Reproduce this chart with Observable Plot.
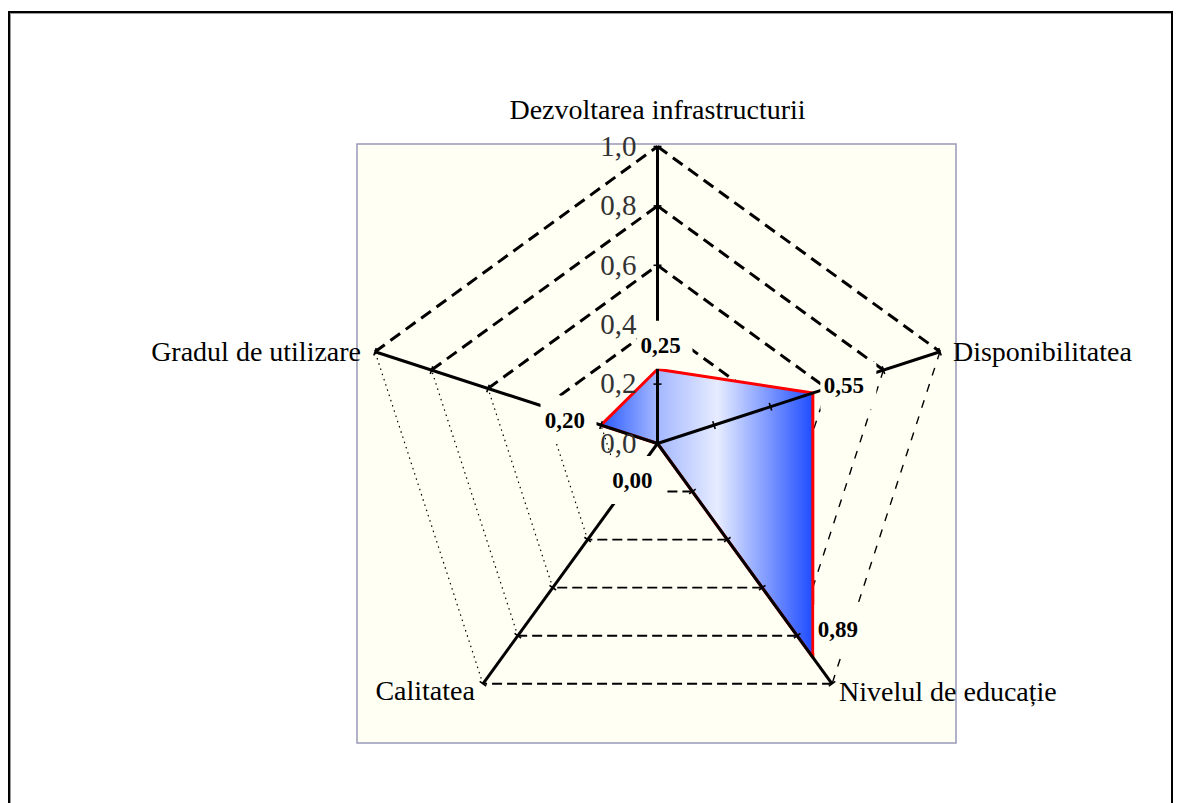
<!DOCTYPE html>
<html>
<head>
<meta charset="utf-8">
<script src="https://cdn.jsdelivr.net/npm/d3@7"></script>
<script src="https://cdn.jsdelivr.net/npm/@observablehq/plot@0.6"></script>
<style>
html, body { margin: 0; padding: 0; background: #fff; overflow: hidden; }
#wrap { position: relative; width: 1181px; height: 803px; }
#frame { position: absolute; left: 8px; top: 11px; width: 1161px; height: 900px;
  border: 2px solid #000; box-shadow: inset 1px 1px 0 #9a9a9a; pointer-events: none; }
</style>
</head>
<body>
<div id="wrap"><div id="chart"></div><div id="frame"></div></div>
<script>
// ---- data ----
const categories = ["Dezvoltarea infrastructurii", "Disponibilitatea", "Nivelul de educație", "Calitatea", "Gradul de utilizare"];
const values = [0.25, 0.55, 0.89, 0.00, 0.20];
const valueLabels = ["0,25", "0,55", "0,89", "0,00", "0,20"];
const tickValues = [0, 0.2, 0.4, 0.6, 0.8, 1.0];
const tickLabels = ["0,0", "0,2", "0,4", "0,6", "0,8", "1,0"];

// ---- layout / style ----
const W = 1181, H = 803, CX = 657, CY = 443, R = 297;
const segStyle = ["heavy", "fine", "medium", "dotted", "heavy"]; // grid segment i -> i+1
const valueLabelLayout = [
  {dx: 3, dy: -24, anchor: "middle"},
  {dx: 11, dy: -7, anchor: "start"},
  {dx: 5, dy: -28, anchor: "start"},
  {dx: -5, dy: 37, anchor: "end"},
  {dx: -16, dy: -5, anchor: "end"}
];
const catLabelLayout = [
  {dx: 0, dy: -36, anchor: "middle"},
  {dx: 13, dy: 0, anchor: "start"},
  {dx: 7, dy: 8, anchor: "start"},
  {dx: -8, dy: 7, anchor: "end"},
  {dx: -14, dy: 0, anchor: "end"}
];
const gradientStops = [[0, "#2a5aff"], [0.26, "#a2b6ff"], [0.55, "#e6ecff"], [0.82, "#6f8dff"], [1, "#1f4dff"]];
const bg = "#fffff4";

const n = categories.length;
const ang = i => Math.PI / 2 - 2 * Math.PI * (i % n) / n;
const px = (i, v) => v * Math.cos(ang(i));
const py = (i, v) => v * Math.sin(ang(i));
const u = p => p / R; // pixels -> data units

// grid segments
const levels = tickValues.filter(d => d > 0);
const grid = [];
for (const l of levels) for (let i = 0; i < n; i++)
  grid.push({x1: px(i, l), y1: py(i, l), x2: px(i + 1, l), y2: py(i + 1, l), style: segStyle[i]});

// axes and ticks
const axes = categories.map((c, i) => ({x1: 0, y1: 0, x2: px(i, 1), y2: py(i, 1)}));
const ticks = [];
for (let i = 0; i < n; i++) for (const l of levels) {
  const a = ang(i), t = u(4);
  const cx = px(i, l), cy = py(i, l);
  ticks.push({x1: cx - Math.sin(a) * t, y1: cy + Math.cos(a) * t, x2: cx + Math.sin(a) * t, y2: cy - Math.cos(a) * t});
}

// polygon
const poly = values.map((v, i) => ({x: px(i, v), y: py(i, v)}));
const polyClosed = [...poly, poly[0]];

// value labels + their boxes
const TW = 41;
const vlab = values.map((v, i) => {
  const L = valueLabelLayout[i];
  const x = px(i, v) + u(L.dx), y = py(i, v) - u(L.dy);
  const left = L.anchor === "start" ? x : L.anchor === "end" ? x - u(TW) : x - u(TW / 2);
  return {text: valueLabels[i], x, y, anchor: L.anchor,
    bx1: left - u(3), bx2: left + u(TW + 12), by1: y - u(24), by2: y + u(24)};
});

const clab = categories.map((c, i) => {
  const L = catLabelLayout[i];
  return {text: c, x: px(i, 1) + u(L.dx), y: py(i, 1) - u(L.dy), anchor: L.anchor};
});

const styleDash = {
  heavy: {strokeWidth: 3, strokeDasharray: "12,7"},
  fine: {strokeWidth: 1.4, strokeDasharray: "8,9"},
  medium: {strokeWidth: 1.9, strokeDasharray: "10,5"},
  dotted: {strokeWidth: 1.2, strokeDasharray: "1.5,4"}
};

const marks = [
  Plot.rect([{x1: -1, x2: 1, y1: -1, y2: 1}], {x1: "x1", x2: "x2", y1: "y1", y2: "y2",
    fill: bg, stroke: "#9898b8", strokeWidth: 1.5, insetLeft: -3, insetRight: -2, insetTop: -2, insetBottom: -3})
];
for (const k of Object.keys(styleDash)) {
  marks.push(Plot.link(grid.filter(d => d.style === k), {x1: "x1", y1: "y1", x2: "x2", y2: "y2",
    stroke: "#000", ...styleDash[k]}));
}
marks.push(
  Plot.line(polyClosed, {x: "x", y: "y", fill: "url(#radarFill)", stroke: "none"}),
  Plot.line(polyClosed, {x: "x", y: "y", stroke: "#ff0000", strokeWidth: 3, strokeLinejoin: "round"}),
  Plot.link(axes, {x1: "x1", y1: "y1", x2: "x2", y2: "y2", stroke: "#000", strokeWidth: 3}),
  Plot.link(ticks, {x1: "x1", y1: "y1", x2: "x2", y2: "y2", stroke: "#000", strokeWidth: 1.6}),
  Plot.rect(vlab, {x1: "bx1", x2: "bx2", y1: "by1", y2: "by2", fill: bg}),
  Plot.text(tickValues, {x: 0, y: d => d, dx: -21, text: (d, i) => tickLabels[i], textAnchor: "end",
    lineAnchor: "middle", fontSize: 29, fill: "#333"})
);
for (const a of ["start", "middle", "end"]) {
  marks.push(Plot.text(vlab.filter(d => d.anchor === a), {x: "x", y: "y", text: "text", textAnchor: a,
    lineAnchor: "middle", fontSize: 23, fontWeight: "bold", fill: "#000"}));
  marks.push(Plot.text(clab.filter(d => d.anchor === a), {x: "x", y: "y", text: "text", textAnchor: a,
    lineAnchor: "middle", fontSize: 28, fill: "#000"}));
}

const chart = Plot.plot({
  width: W, height: H,
  margin: 0,
  x: {domain: [-CX / R, (W - CX) / R], range: [0, W], axis: null},
  y: {domain: [-(H - CY) / R, CY / R], range: [H, 0], axis: null},
  style: {fontFamily: "Liberation Serif, Times New Roman, serif", background: "#fff", overflow: "visible"},
  marks
});

// gradient definition for the filled polygon
const xs = chart.scale("x");
const pxs = poly.map(p => xs.apply(p.x));
const svg = d3.select(chart);
const grad = svg.insert("defs", ":first-child").append("linearGradient")
  .attr("id", "radarFill").attr("gradientUnits", "userSpaceOnUse")
  .attr("x1", d3.min(pxs)).attr("x2", d3.max(pxs)).attr("y1", 0).attr("y2", 0);
for (const [o, c] of gradientStops) grad.append("stop").attr("offset", o).attr("stop-color", c);

document.getElementById("chart").appendChild(chart);
</script>
</body>
</html>
